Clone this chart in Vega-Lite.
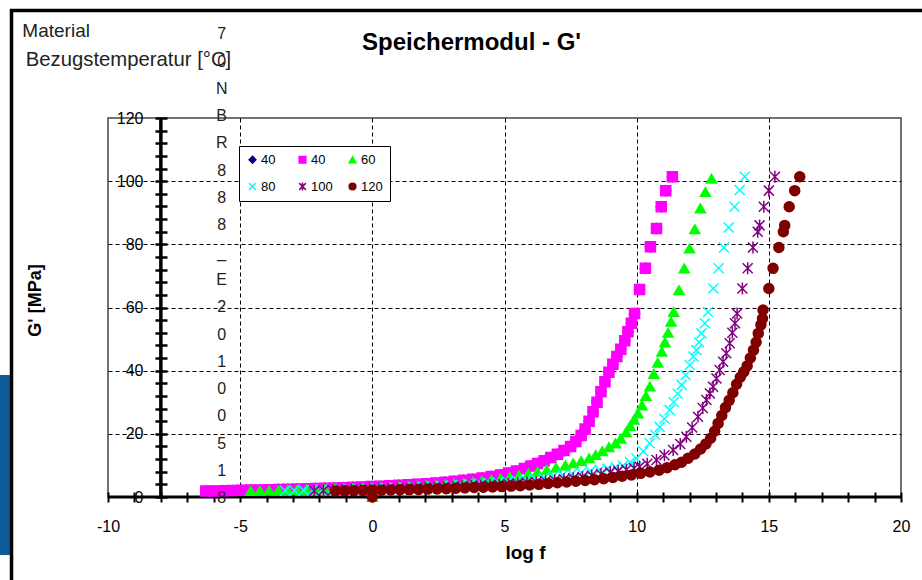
{
"$schema": "https://vega.github.io/schema/vega-lite/v6.json",
"width": 793, "height": 379,
"autosize": {"type": "none"},
"padding": {"left": 108, "top": 118, "right": 21, "bottom": 83},
"background": "white",
"config": {
  "font": "Liberation Sans",
  "view": {"stroke": "#444", "strokeWidth": 1.5},
  "legend": {"orient": "none", "legendX": 131, "legendY": 28, "direction": "horizontal", "columns": 3, "gridAlign": "all", "padding": 7, "strokeColor": "black", "fillColor": "white", "symbolSize": 45, "symbolStrokeWidth": 1.5, "labelFontSize": 13, "labelOffset": 2, "columnPadding": 13, "rowPadding": 12, "labelColor": "black", "labelFont": "Liberation Sans"}
},
"title": {"text": "Speichermodul - G'", "frame": "group", "fontSize": 24, "fontWeight": "bold", "anchor": "middle", "dx": -33, "dy": 65, "offset": 0, "baseline": "alphabetic", "color": "black", "font": "Liberation Sans"},
"datasets": {"pts": [
{"s":"40a","x":-6.3,"y":1.9},{"s":"40a","x":-6.0,"y":1.9},{"s":"40a","x":-5.65,"y":2.0},{"s":"40a","x":-5.3,"y":2.05},{"s":"40a","x":-4.95,"y":2.1},{"s":"40a","x":-4.6,"y":2.2},{"s":"40a","x":-4.25,"y":2.25},{"s":"40a","x":-3.9,"y":2.3},{"s":"40a","x":-3.55,"y":2.4},{"s":"40a","x":-3.2,"y":2.45},{"s":"40a","x":-2.85,"y":2.55},{"s":"40a","x":-2.5,"y":2.6},{"s":"40a","x":-2.15,"y":2.7},{"s":"40a","x":-1.8,"y":2.75},{"s":"40a","x":-1.45,"y":2.85},{"s":"40a","x":-1.1,"y":2.95},{"s":"40a","x":-0.75,"y":3.05},{"s":"40a","x":-0.4,"y":3.15},{"s":"40a","x":-0.05,"y":3.3},{"s":"40a","x":0.3,"y":3.4},{"s":"40a","x":0.65,"y":3.55},{"s":"40a","x":1.0,"y":3.7},{"s":"40a","x":1.35,"y":3.85},{"s":"40a","x":1.7,"y":4.0},{"s":"40a","x":2.05,"y":4.2},{"s":"40a","x":2.4,"y":4.45},{"s":"40a","x":2.75,"y":4.7},{"s":"40a","x":3.1,"y":5.0},{"s":"40a","x":3.45,"y":5.3},{"s":"40a","x":3.8,"y":5.6},{"s":"40a","x":4.15,"y":6.0},{"s":"40a","x":4.5,"y":6.5},{"s":"40a","x":4.85,"y":7.0},{"s":"40a","x":5.15,"y":7.6},{"s":"40a","x":5.45,"y":8.2},{"s":"40a","x":5.75,"y":9.0},{"s":"40a","x":6.0,"y":9.8},{"s":"40a","x":6.25,"y":10.6},{"s":"40a","x":6.5,"y":11.5},{"s":"40a","x":6.75,"y":12.5},{"s":"40a","x":7.0,"y":13.5},{"s":"40a","x":7.25,"y":14.7},{"s":"40a","x":7.5,"y":16.0},{"s":"40a","x":7.7,"y":17.6},{"s":"40a","x":7.9,"y":19.5},{"s":"40a","x":8.05,"y":21.5},{"s":"40a","x":8.2,"y":24.0},{"s":"40a","x":8.35,"y":27.0},{"s":"40a","x":8.5,"y":30.0},{"s":"40a","x":8.65,"y":33.3},{"s":"40a","x":8.8,"y":36.5},{"s":"40a","x":8.95,"y":39.5},{"s":"40a","x":9.1,"y":42.0},{"s":"40a","x":9.25,"y":44.5},{"s":"40a","x":9.4,"y":46.8},{"s":"40a","x":9.55,"y":49.5},{"s":"40a","x":9.67,"y":52.3},{"s":"40a","x":9.8,"y":55.0},{"s":"40a","x":9.92,"y":58.1},{"s":"40a","x":10.11,"y":65.7},{"s":"40a","x":10.33,"y":72.4},{"s":"40a","x":10.52,"y":79.2},{"s":"40a","x":10.75,"y":85.0},{"s":"40a","x":10.93,"y":91.9},{"s":"40a","x":11.1,"y":97.0},{"s":"40a","x":11.35,"y":101.4},
{"s":"40b","x":-6.3,"y":1.9},{"s":"40b","x":-6.0,"y":1.9},{"s":"40b","x":-5.65,"y":2.0},{"s":"40b","x":-5.3,"y":2.05},{"s":"40b","x":-4.95,"y":2.1},{"s":"40b","x":-4.6,"y":2.2},{"s":"40b","x":-4.25,"y":2.25},{"s":"40b","x":-3.9,"y":2.3},{"s":"40b","x":-3.55,"y":2.4},{"s":"40b","x":-3.2,"y":2.45},{"s":"40b","x":-2.85,"y":2.55},{"s":"40b","x":-2.5,"y":2.6},{"s":"40b","x":-2.15,"y":2.7},{"s":"40b","x":-1.8,"y":2.75},{"s":"40b","x":-1.45,"y":2.85},{"s":"40b","x":-1.1,"y":2.95},{"s":"40b","x":-0.75,"y":3.05},{"s":"40b","x":-0.4,"y":3.15},{"s":"40b","x":-0.05,"y":3.3},{"s":"40b","x":0.3,"y":3.4},{"s":"40b","x":0.65,"y":3.55},{"s":"40b","x":1.0,"y":3.7},{"s":"40b","x":1.35,"y":3.85},{"s":"40b","x":1.7,"y":4.0},{"s":"40b","x":2.05,"y":4.2},{"s":"40b","x":2.4,"y":4.45},{"s":"40b","x":2.75,"y":4.7},{"s":"40b","x":3.1,"y":5.0},{"s":"40b","x":3.45,"y":5.3},{"s":"40b","x":3.8,"y":5.6},{"s":"40b","x":4.15,"y":6.0},{"s":"40b","x":4.5,"y":6.5},{"s":"40b","x":4.85,"y":7.0},{"s":"40b","x":5.15,"y":7.6},{"s":"40b","x":5.45,"y":8.2},{"s":"40b","x":5.75,"y":9.0},{"s":"40b","x":6.0,"y":9.8},{"s":"40b","x":6.25,"y":10.6},{"s":"40b","x":6.5,"y":11.5},{"s":"40b","x":6.75,"y":12.5},{"s":"40b","x":7.0,"y":13.5},{"s":"40b","x":7.25,"y":14.7},{"s":"40b","x":7.5,"y":16.0},{"s":"40b","x":7.7,"y":17.6},{"s":"40b","x":7.9,"y":19.5},{"s":"40b","x":8.05,"y":21.5},{"s":"40b","x":8.2,"y":24.0},{"s":"40b","x":8.35,"y":27.0},{"s":"40b","x":8.5,"y":30.0},{"s":"40b","x":8.65,"y":33.3},{"s":"40b","x":8.8,"y":36.5},{"s":"40b","x":8.95,"y":39.5},{"s":"40b","x":9.1,"y":42.0},{"s":"40b","x":9.25,"y":44.5},{"s":"40b","x":9.4,"y":46.8},{"s":"40b","x":9.55,"y":49.5},{"s":"40b","x":9.67,"y":52.3},{"s":"40b","x":9.8,"y":55.0},{"s":"40b","x":9.92,"y":58.1},{"s":"40b","x":10.11,"y":65.7},{"s":"40b","x":10.33,"y":72.4},{"s":"40b","x":10.52,"y":79.2},{"s":"40b","x":10.75,"y":85.0},{"s":"40b","x":10.93,"y":91.9},{"s":"40b","x":11.1,"y":97.0},{"s":"40b","x":11.35,"y":101.4},
{"s":"60","x":0,"y":0},{"s":"60","x":-4.6,"y":1.9},{"s":"60","x":-4.25,"y":2.0},{"s":"60","x":-3.9,"y":2.05},{"s":"60","x":-3.55,"y":2.1},{"s":"60","x":-3.2,"y":2.2},{"s":"60","x":-2.85,"y":2.25},{"s":"60","x":-2.5,"y":2.3},{"s":"60","x":-2.15,"y":2.4},{"s":"60","x":-1.8,"y":2.45},{"s":"60","x":-1.45,"y":2.55},{"s":"60","x":-1.1,"y":2.6},{"s":"60","x":-0.75,"y":2.7},{"s":"60","x":-0.4,"y":2.8},{"s":"60","x":-0.05,"y":2.9},{"s":"60","x":0.3,"y":3.0},{"s":"60","x":0.65,"y":3.1},{"s":"60","x":1.0,"y":3.2},{"s":"60","x":1.35,"y":3.35},{"s":"60","x":1.7,"y":3.5},{"s":"60","x":2.05,"y":3.65},{"s":"60","x":2.4,"y":3.8},{"s":"60","x":2.75,"y":4.0},{"s":"60","x":3.1,"y":4.2},{"s":"60","x":3.45,"y":4.45},{"s":"60","x":3.8,"y":4.7},{"s":"60","x":4.15,"y":5.0},{"s":"60","x":4.5,"y":5.4},{"s":"60","x":4.85,"y":5.8},{"s":"60","x":5.2,"y":6.3},{"s":"60","x":5.55,"y":6.8},{"s":"60","x":5.9,"y":7.4},{"s":"60","x":6.25,"y":8.0},{"s":"60","x":6.6,"y":8.6},{"s":"60","x":6.95,"y":9.3},{"s":"60","x":7.3,"y":10.0},{"s":"60","x":7.6,"y":10.7},{"s":"60","x":7.9,"y":11.4},{"s":"60","x":8.2,"y":12.3},{"s":"60","x":8.45,"y":13.3},{"s":"60","x":8.7,"y":14.5},{"s":"60","x":8.95,"y":15.8},{"s":"60","x":9.2,"y":17.0},{"s":"60","x":9.4,"y":18.5},{"s":"60","x":9.6,"y":20.5},{"s":"60","x":9.75,"y":22.5},{"s":"60","x":9.9,"y":24.5},{"s":"60","x":10.05,"y":26.5},{"s":"60","x":10.2,"y":29.0},{"s":"60","x":10.35,"y":32.0},{"s":"60","x":10.5,"y":35.0},{"s":"60","x":10.65,"y":39.0},{"s":"60","x":10.8,"y":42.5},{"s":"60","x":10.95,"y":46.0},{"s":"60","x":11.07,"y":49.0},{"s":"60","x":11.19,"y":52.0},{"s":"60","x":11.3,"y":55.5},{"s":"60","x":11.4,"y":58.6},{"s":"60","x":11.6,"y":65.5},{"s":"60","x":11.8,"y":72.4},{"s":"60","x":12.0,"y":78.7},{"s":"60","x":12.2,"y":84.8},{"s":"60","x":12.41,"y":91.4},{"s":"60","x":12.6,"y":96.6},{"s":"60","x":12.83,"y":100.8},
{"s":"80","x":-3.3,"y":2.0},{"s":"80","x":-2.95,"y":2.05},{"s":"80","x":-2.6,"y":2.1},{"s":"80","x":-2.25,"y":2.15},{"s":"80","x":-1.9,"y":2.2},{"s":"80","x":-1.55,"y":2.3},{"s":"80","x":-1.2,"y":2.35},{"s":"80","x":-0.85,"y":2.4},{"s":"80","x":-0.5,"y":2.5},{"s":"80","x":-0.15,"y":2.55},{"s":"80","x":0.2,"y":2.65},{"s":"80","x":0.55,"y":2.75},{"s":"80","x":0.9,"y":2.85},{"s":"80","x":1.25,"y":2.95},{"s":"80","x":1.6,"y":3.05},{"s":"80","x":1.95,"y":3.2},{"s":"80","x":2.3,"y":3.35},{"s":"80","x":2.65,"y":3.5},{"s":"80","x":3.0,"y":3.65},{"s":"80","x":3.35,"y":3.8},{"s":"80","x":3.7,"y":4.0},{"s":"80","x":4.05,"y":4.2},{"s":"80","x":4.4,"y":4.4},{"s":"80","x":4.75,"y":4.6},{"s":"80","x":5.1,"y":4.85},{"s":"80","x":5.45,"y":5.1},{"s":"80","x":5.8,"y":5.4},{"s":"80","x":6.15,"y":5.7},{"s":"80","x":6.5,"y":6.1},{"s":"80","x":6.85,"y":6.5},{"s":"80","x":7.2,"y":6.9},{"s":"80","x":7.55,"y":7.3},{"s":"80","x":7.9,"y":7.7},{"s":"80","x":8.25,"y":8.2},{"s":"80","x":8.6,"y":8.6},{"s":"80","x":8.9,"y":9.0},{"s":"80","x":9.2,"y":9.4},{"s":"80","x":9.48,"y":9.9},{"s":"80","x":9.75,"y":11.0},{"s":"80","x":9.99,"y":12.2},{"s":"80","x":10.25,"y":14.5},{"s":"80","x":10.49,"y":17.0},{"s":"80","x":10.7,"y":19.7},{"s":"80","x":10.87,"y":22.2},{"s":"80","x":11.05,"y":24.8},{"s":"80","x":11.25,"y":27.5},{"s":"80","x":11.4,"y":30.0},{"s":"80","x":11.55,"y":32.7},{"s":"80","x":11.7,"y":35.5},{"s":"80","x":11.85,"y":38.6},{"s":"80","x":12.01,"y":41.8},{"s":"80","x":12.15,"y":44.5},{"s":"80","x":12.26,"y":46.5},{"s":"80","x":12.36,"y":49.0},{"s":"80","x":12.45,"y":51.8},{"s":"80","x":12.58,"y":55.0},{"s":"80","x":12.7,"y":58.6},{"s":"80","x":12.9,"y":66.0},{"s":"80","x":13.1,"y":72.4},{"s":"80","x":13.3,"y":79.0},{"s":"80","x":13.48,"y":85.3},{"s":"80","x":13.7,"y":91.9},{"s":"80","x":13.9,"y":97.2},{"s":"80","x":14.09,"y":101.4},
{"s":"100","x":-2.2,"y":2.0},{"s":"100","x":-1.85,"y":2.05},{"s":"100","x":-1.5,"y":2.1},{"s":"100","x":-1.15,"y":2.15},{"s":"100","x":-0.8,"y":2.2},{"s":"100","x":-0.45,"y":2.3},{"s":"100","x":-0.1,"y":2.35},{"s":"100","x":0.25,"y":2.4},{"s":"100","x":0.6,"y":2.5},{"s":"100","x":0.95,"y":2.55},{"s":"100","x":1.3,"y":2.65},{"s":"100","x":1.65,"y":2.75},{"s":"100","x":2.0,"y":2.85},{"s":"100","x":2.35,"y":2.95},{"s":"100","x":2.7,"y":3.05},{"s":"100","x":3.05,"y":3.15},{"s":"100","x":3.4,"y":3.3},{"s":"100","x":3.75,"y":3.45},{"s":"100","x":4.1,"y":3.6},{"s":"100","x":4.45,"y":3.75},{"s":"100","x":4.8,"y":3.9},{"s":"100","x":5.15,"y":4.1},{"s":"100","x":5.5,"y":4.3},{"s":"100","x":5.85,"y":4.5},{"s":"100","x":6.2,"y":4.7},{"s":"100","x":6.55,"y":5.0},{"s":"100","x":6.9,"y":5.3},{"s":"100","x":7.25,"y":5.6},{"s":"100","x":7.6,"y":5.9},{"s":"100","x":7.95,"y":6.3},{"s":"100","x":8.3,"y":6.8},{"s":"100","x":8.65,"y":7.3},{"s":"100","x":9.0,"y":7.8},{"s":"100","x":9.3,"y":8.2},{"s":"100","x":9.61,"y":8.6},{"s":"100","x":9.9,"y":9.1},{"s":"100","x":10.11,"y":9.6},{"s":"100","x":10.4,"y":10.5},{"s":"100","x":10.75,"y":11.7},{"s":"100","x":11.05,"y":13.2},{"s":"100","x":11.38,"y":14.9},{"s":"100","x":11.65,"y":16.8},{"s":"100","x":11.88,"y":19.1},{"s":"100","x":12.1,"y":22.0},{"s":"100","x":12.32,"y":25.4},{"s":"100","x":12.5,"y":28.2},{"s":"100","x":12.64,"y":30.7},{"s":"100","x":12.77,"y":32.8},{"s":"100","x":12.89,"y":34.9},{"s":"100","x":13.02,"y":37.5},{"s":"100","x":13.14,"y":40.2},{"s":"100","x":13.27,"y":42.8},{"s":"100","x":13.39,"y":45.5},{"s":"100","x":13.52,"y":48.7},{"s":"100","x":13.62,"y":52.0},{"s":"100","x":13.72,"y":55.0},{"s":"100","x":13.8,"y":58.1},{"s":"100","x":14.0,"y":66.0},{"s":"100","x":14.2,"y":72.4},{"s":"100","x":14.4,"y":79.0},{"s":"100","x":14.58,"y":84.0},{"s":"100","x":14.65,"y":86.0},{"s":"100","x":14.81,"y":91.9},{"s":"100","x":15.0,"y":97.0},{"s":"100","x":15.23,"y":101.4},
{"s":"120","x":0,"y":0},{"s":"120","x":-1.4,"y":1.9},{"s":"120","x":-1.05,"y":1.95},{"s":"120","x":-0.7,"y":2.0},{"s":"120","x":-0.35,"y":2.05},{"s":"120","x":0.0,"y":2.1},{"s":"120","x":0.35,"y":2.15},{"s":"120","x":0.7,"y":2.2},{"s":"120","x":1.05,"y":2.3},{"s":"120","x":1.4,"y":2.35},{"s":"120","x":1.75,"y":2.4},{"s":"120","x":2.1,"y":2.5},{"s":"120","x":2.45,"y":2.55},{"s":"120","x":2.8,"y":2.65},{"s":"120","x":3.15,"y":2.75},{"s":"120","x":3.5,"y":2.85},{"s":"120","x":3.85,"y":3.0},{"s":"120","x":4.2,"y":3.1},{"s":"120","x":4.55,"y":3.2},{"s":"120","x":4.9,"y":3.3},{"s":"120","x":5.25,"y":3.45},{"s":"120","x":5.6,"y":3.6},{"s":"120","x":5.95,"y":3.8},{"s":"120","x":6.3,"y":4.0},{"s":"120","x":6.65,"y":4.3},{"s":"120","x":7.0,"y":4.5},{"s":"120","x":7.35,"y":4.75},{"s":"120","x":7.7,"y":5.0},{"s":"120","x":8.05,"y":5.25},{"s":"120","x":8.4,"y":5.5},{"s":"120","x":8.75,"y":5.8},{"s":"120","x":9.1,"y":6.2},{"s":"120","x":9.45,"y":6.6},{"s":"120","x":9.8,"y":7.0},{"s":"120","x":10.15,"y":7.5},{"s":"120","x":10.5,"y":7.9},{"s":"120","x":10.85,"y":8.5},{"s":"120","x":11.15,"y":9.3},{"s":"120","x":11.45,"y":10.2},{"s":"120","x":11.7,"y":11.0},{"s":"120","x":11.95,"y":12.3},{"s":"120","x":12.2,"y":13.6},{"s":"120","x":12.42,"y":15.2},{"s":"120","x":12.62,"y":16.8},{"s":"120","x":12.8,"y":18.6},{"s":"120","x":12.95,"y":20.8},{"s":"120","x":13.08,"y":23.3},{"s":"120","x":13.22,"y":25.8},{"s":"120","x":13.36,"y":28.3},{"s":"120","x":13.5,"y":30.6},{"s":"120","x":13.64,"y":33.0},{"s":"120","x":13.78,"y":35.7},{"s":"120","x":13.92,"y":37.9},{"s":"120","x":14.05,"y":39.6},{"s":"120","x":14.18,"y":41.5},{"s":"120","x":14.3,"y":44.0},{"s":"120","x":14.42,"y":46.5},{"s":"120","x":14.52,"y":49.0},{"s":"120","x":14.6,"y":51.8},{"s":"120","x":14.7,"y":54.5},{"s":"120","x":14.76,"y":56.5},{"s":"120","x":14.78,"y":59.2},{"s":"120","x":15.0,"y":66.0},{"s":"120","x":15.16,"y":72.4},{"s":"120","x":15.38,"y":79.0},{"s":"120","x":15.55,"y":84.0},{"s":"120","x":15.6,"y":86.0},{"s":"120","x":15.77,"y":91.9},{"s":"120","x":15.98,"y":97.0},{"s":"120","x":16.17,"y":101.4}
]},
"layer": [
  {"data": {"values": [{}]},
   "mark": {"type": "rect", "fill": "#0d5c99"},
   "encoding": {
     "x": {"datum": -14.3, "type": "quantitative", "scale": {"domain": [-10, 20], "nice": false, "zero": false}},
     "x2": {"datum": -13.65},
     "y": {"datum": 38.6, "type": "quantitative", "scale": {"domain": [0, 120], "nice": false, "zero": false}},
     "y2": {"datum": -18.4}}},
  {"data": {"values": [{}]},
   "mark": {"type": "rect", "fill": null, "fillOpacity": 0, "stroke": "black", "strokeWidth": 3.5},
   "encoding": {
     "x": {"datum": -13.65, "type": "quantitative", "scale": {"domain": [-10, 20], "nice": false, "zero": false}},
     "x2": {"datum": 22},
     "y": {"datum": 154.05, "type": "quantitative", "scale": {"domain": [0, 120], "nice": false, "zero": false}},
     "y2": {"datum": -40}}},
  {"data": {"values": [{}]},
   "mark": {"type": "rule", "color": "black", "strokeWidth": 3},
   "encoding": {
     "y": {"datum": 0, "type": "quantitative", "scale": {"domain": [0, 120], "nice": false, "zero": false}}}},
  {"data": {"values": [{}]},
   "mark": {"type": "rule", "color": "black", "strokeWidth": 3.5},
   "encoding": {
     "x": {"datum": -8, "type": "quantitative", "scale": {"domain": [-10, 20], "nice": false, "zero": false}}}},
  {"data": {"name": "pts"},
   "mark": {"type": "point", "filled": true, "size": 100, "strokeWidth": 1.5, "opacity": 1},
   "encoding": {
     "x": {"field": "x", "type": "quantitative",
       "scale": {"domain": [-10, 20], "nice": false, "zero": false},
       "axis": {"values": [-10,-9,-8,-7,-6,-5,-4,-3,-2,-1,0,1,2,3,4,5,6,7,8,9,10,11,12,13,14,15,16,17,18,19,20],
         "tickCount": 200,
         "labelExpr": "datum.value % 5 === 0 ? '' + datum.value : ''",
         "labelOverlap": false, "labelFlush": false,
         "domain": false, "tickSize": 10, "tickWidth": 2, "tickColor": "black", "offset": -5,
         "labelPadding": 16, "labelFontSize": 16, "labelColor": "black", "labelFont": "Liberation Sans",
         "grid": true, "gridDash": [4, 3], "gridColor": "black", "gridWidth": 1,
         "gridOpacity": {"condition": {"test": "datum.value % 5 !== 0 || datum.value === -10 || datum.value === 20", "value": 0}, "value": 1},
         "title": "log f", "titleFontSize": 19, "titleFontWeight": "bold", "titleColor": "black", "titleFont": "Liberation Sans",
         "titleX": 417, "titleY": 60, "titleBaseline": "middle", "titleAlign": "center"}},
     "y": {"field": "y", "type": "quantitative",
       "scale": {"domain": [0, 120], "nice": false, "zero": false},
       "axis": {"values": [0,4,8,12,16,20,24,28,32,36,40,44,48,52,56,60,64,68,72,76,80,84,88,92,96,100,104,108,112,116,120],
         "tickCount": 200,
         "labelExpr": "datum.value % 20 === 0 ? '' + datum.value : ''",
         "labelOverlap": false, "labelFlush": false,
         "domain": false, "tickSize": 12, "tickWidth": 2.5, "tickColor": "black", "offset": -59,
         "labelPadding": 12, "labelFontSize": 16, "labelColor": "black", "labelFont": "Liberation Sans",
         "grid": true, "gridDash": [4, 3], "gridColor": "black", "gridWidth": 1,
         "gridOpacity": {"condition": {"test": "datum.value % 20 !== 0 || datum.value === 0 || datum.value === 120", "value": 0}, "value": 1},
         "title": "G' [MPa]", "titleFontSize": 18, "titleFontWeight": "bold", "titleColor": "black", "titleFont": "Liberation Sans",
         "titleX": -132, "titleY": 182, "titleBaseline": "middle", "titleAlign": "center", "titleAngle": -90}},
     "fill": {"field": "s", "type": "nominal", "title": null,
       "scale": {"domain": ["40a","40b","60","80","100","120"], "range": ["#000080","#ff00ff","#00ff00","#00ffff","#800080","#800000"]},
       "legend": {"labelExpr": "datum.label === '40a' || datum.label === '40b' ? '40' : datum.label"}},
     "stroke": {"field": "s", "type": "nominal", "title": null,
       "scale": {"domain": ["40a","40b","60","80","100","120"], "range": ["#000080","#ff00ff","#00ff00","#00ffff","#800080","#800000"]},
       "legend": {"labelExpr": "datum.label === '40a' || datum.label === '40b' ? '40' : datum.label"}},
     "shape": {"field": "s", "type": "nominal", "title": null,
       "scale": {"domain": ["40a","40b","60","80","100","120"], "range": ["diamond","square","triangle-up","M-1,-1L1,1M-1,1L1,-1","M-1,-1L1,1M-1,1L1,-1M0,-1.2L0,1.2","circle"]},
       "legend": {"labelExpr": "datum.label === '40a' || datum.label === '40b' ? '40' : datum.label"}}
   }},
  {"data": {"values": [{}]},
   "mark": {"type": "text", "text": "Material", "align": "left", "baseline": "alphabetic", "fontSize": 19, "color": "#222", "font": "Liberation Sans"},
   "encoding": {
     "x": {"datum": -13.24, "type": "quantitative", "scale": {"domain": [-10, 20], "nice": false, "zero": false}},
     "y": {"datum": 145.5, "type": "quantitative", "scale": {"domain": [0, 120], "nice": false, "zero": false}}}},
  {"data": {"values": [{}]},
   "mark": {"type": "text", "text": "Bezugstemperatur [°C]", "align": "left", "baseline": "alphabetic", "fontSize": 20.3, "color": "#222", "font": "Liberation Sans"},
   "encoding": {
     "x": {"datum": -13.11, "type": "quantitative", "scale": {"domain": [-10, 20], "nice": false, "zero": false}},
     "y": {"datum": 136.5, "type": "quantitative", "scale": {"domain": [0, 120], "nice": false, "zero": false}}}},
  {"data": {"values": [{}]},
   "mark": {"type": "text", "text": ["7","0","N","B","R","8","8","8","_","E","2","0","1","0","0","5","1","8"], "align": "center", "baseline": "middle", "fontSize": 16, "lineHeight": 27.3, "color": "#222", "font": "Liberation Sans"},
   "encoding": {
     "x": {"datum": -5.7, "type": "quantitative", "scale": {"domain": [-10, 20], "nice": false, "zero": false}},
     "y": {"datum": 146.5, "type": "quantitative", "scale": {"domain": [0, 120], "nice": false, "zero": false}}}}
]
}
